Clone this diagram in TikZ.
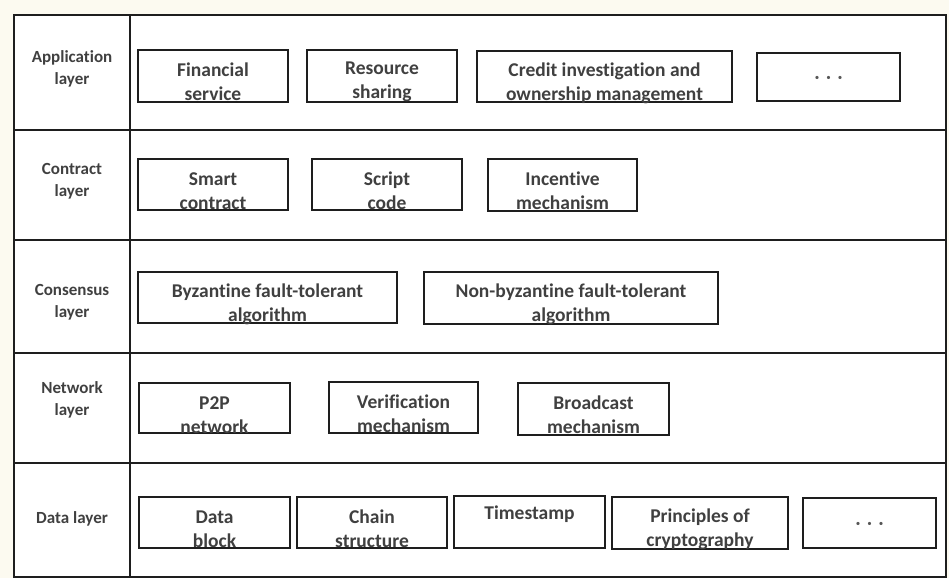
\documentclass[tikz,border=0pt]{standalone}
\usepackage{fontspec}
\setmainfont[Ligatures=NoCommon]{Carlito}
\usetikzlibrary{fit}
\definecolor{cream}{RGB}{252,250,240}
\definecolor{ink}{RGB}{30,30,30}
\tikzset{
  frameline/.style={draw=ink, line width=2pt},
  boxs/.style={draw=ink, line width=1.8pt, inner sep=0pt, rectangle},
  btxt/.style={font=\fontsize{19.5}{24}\selectfont\bfseries, text=ink!85!white, align=center, inner sep=0pt},
  ltxt/.style={font=\fontsize{17}{22}\selectfont\bfseries, text=ink!85!white, align=center, inner sep=0pt},
  dtxt/.style={font=\fontsize{9}{9}\selectfont, text=ink!75!white, inner sep=0pt},
}
\newcommand\mybox[7]{%
  \node[boxs, fit={(#2,#3)(#4,#5)}] (#1) {};
  \node[btxt] (#1t) at ([yshift=-#7pt]#1.north) {#6};
}
\newcommand\dotbox[5]{%
  \node[boxs, fit={(#2,#3)(#4,#5)}] (#1) {};
  \node[dtxt] (#1t) at ([yshift=-1pt]#1.center) {•\hspace{7pt}•\hspace{7pt}•};
}
\begin{document}
\begin{tikzpicture}[x=1pt,y=-1pt]
\fill[cream] (0,0) rectangle (949,578);
\useasboundingbox (0,0) rectangle (949,578);
\fill[white] (14,15) rectangle (946,577);
% frame
\draw[frameline] (14,15) rectangle (946,577);
\coordinate (vt) at (130,15);
\coordinate (vb) at (130,577);
\draw[frameline] (vt) -- (vb);
\foreach \yy/\nm in {130/a,240/b,353/c,463/d}{
  \coordinate (l\nm) at (14,\yy);
  \coordinate (r\nm) at (946,\yy);
  \draw[frameline] (l\nm) -- (r\nm);
}
% layer labels
\node[ltxt] (L1) at (72,69) {Application\\layer};
\node[ltxt] (L2) at (72,181) {Contract\\layer};
\node[ltxt] (L3) at (72,302) {Consensus\\layer};
\node[ltxt] (L4) at (72,400) {Network\\layer};
\node[ltxt] (L5) at (72,519) {Data layer};
% application layer
\mybox{fin}{138}{50}{288}{102}{Financial\\service}{33}
\mybox{res}{307}{50}{457}{102}{Resource\\sharing}{33}
\mybox{cre}{477}{51}{732}{102}{Credit investigation and\\ownership management}{33}
\dotbox{dotsa}{757}{53}{900}{101}
% contract layer
\mybox{sma}{138}{159}{288}{210}{Smart\\contract}{33}
\mybox{scr}{312}{159}{462}{210}{Script\\code}{33}
\mybox{inc}{488}{159}{637}{211}{Incentive\\mechanism}{33}
% consensus layer
\mybox{byz}{138}{272}{397}{323}{Byzantine fault-tolerant\\algorithm}{33}
\mybox{nby}{424}{272}{718}{324}{Non-byzantine fault-tolerant\\algorithm}{33}
% network layer
\mybox{p2p}{139}{383}{290}{433}{P2P\\network}{33}
\mybox{ver}{329}{382}{478}{433}{Verification\\mechanism}{33}
\mybox{bro}{518}{383}{669}{435}{Broadcast\\mechanism}{33}
% data layer
\mybox{dat}{139}{497}{290}{548}{Data\\block}{33}
\mybox{cha}{297}{497}{447}{548}{Chain\\structure}{33}
\mybox{tim}{454}{496}{605}{548}{Timestamp}{19}
\mybox{pri}{612}{497}{788}{549}{Principles of\\cryptography}{33}
\dotbox{dotsb}{803}{498}{936}{548}
\end{tikzpicture}
\end{document}
